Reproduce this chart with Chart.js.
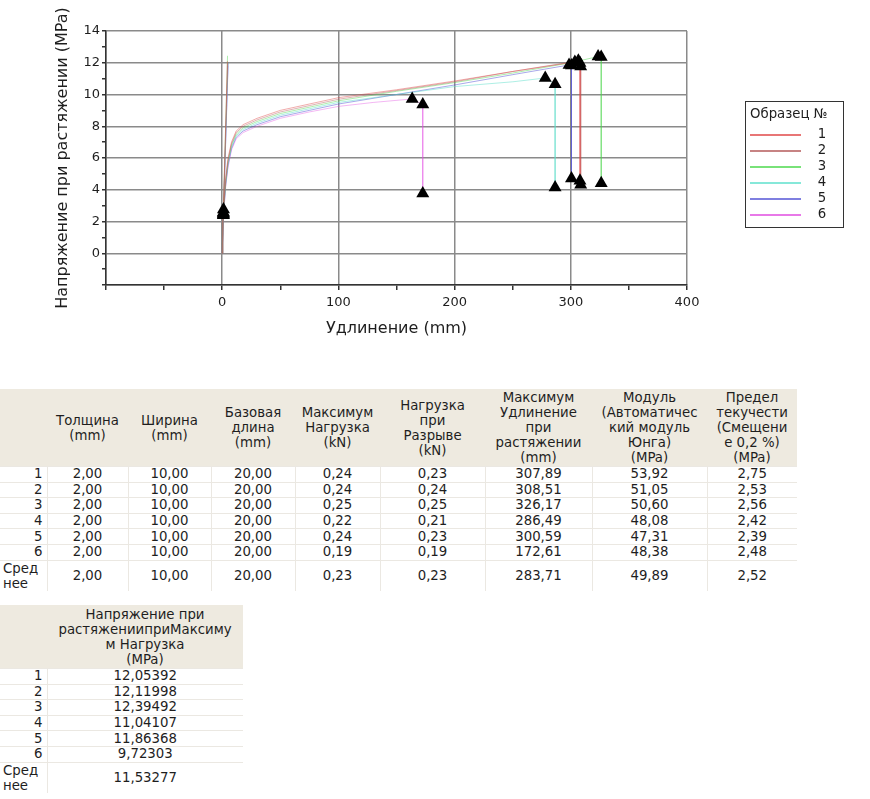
<!DOCTYPE html>
<html>
<head>
<meta charset="utf-8">
<title>Испытание на растяжение</title>
<script src="https://cdn.jsdelivr.net/npm/chart.js@4.4.1/dist/chart.umd.min.js"></script>
<style>
  body { margin: 0; background: #fff; font-family: "DejaVu Sans", Verdana, sans-serif; color: #1e1e1e; }
  #chartBox { position: absolute; left: 0; top: 0; width: 870px; height: 345px; }
  table { position: absolute; left: 0; border-collapse: collapse; table-layout: fixed; font-size: 13.3px; line-height: 14px; }
  #results { top: 389px; width: 797px; }
  #stressTable { top: 605px; width: 243px; }
  th { background: #eeeae0; font-weight: normal; text-align: center; vertical-align: middle; padding: 0 1px; line-height: 15px; }
  #results th { height: 77px; }
  #stressTable th { height: 63px; }
  td { padding: 0 2px; text-align: center; height: 14.6px; border-top: 1px solid #ebe8e2; border-left: 1px solid #ebe8e2; white-space: nowrap; }
  td.num { text-align: right; padding-right: 4px; border-left: none; }
  td.avgLabel { text-align: left; padding-left: 3px; line-height: 15px; height: 30px; }
</style>
</head>
<body>
<div id="chartBox"><canvas id="myChart"></canvas></div>
<table id="results"></table>
<table id="stressTable"></table>
<script>
// --- values ---
const specimens = ['1', '2', '3', '4', '5', '6'];

// stress-strain curves [elongation mm, stress MPa]
const curve1 = [[0,0],[0.5,2.0],[1.1,2.75],[2,3.8],[3,4.8],[5,6.0],[8,7.0],[12,7.7],[18,8.1],[30,8.5],[50,9.0],[75,9.4],[100,9.8],[150,10.3],[200,10.85],[250,11.45],[303.5,12.05],[307.89,11.98],[307.89,4.56]];
const curve2 = [[0,0],[0.5,1.9],[1.0,2.53],[2,3.6],[3,4.6],[5,5.85],[8,6.9],[12,7.6],[18,8.0],[30,8.4],[50,8.9],[75,9.3],[100,9.7],[150,10.25],[200,10.8],[250,11.45],[306.5,12.12],[308.51,11.77],[308.51,4.31]];
const curve3 = [[0,0],[0.5,1.95],[1.0,2.56],[2,3.5],[3,4.5],[5,5.75],[8,6.8],[12,7.5],[18,7.9],[30,8.3],[50,8.8],[75,9.2],[100,9.6],[150,10.2],[200,10.75],[250,11.35],[300,12.0],[323.5,12.39],[326.17,12.36],[326.17,4.41]];
const curve4 = [[0,0],[0.5,1.8],[1.0,2.42],[2,3.4],[3,4.4],[5,5.65],[8,6.7],[12,7.4],[18,7.8],[30,8.2],[50,8.7],[75,9.1],[100,9.5],[150,10.0],[200,10.5],[250,10.8],[278,11.04],[286.49,10.64],[286.49,4.14]];
const curve5 = [[0,0],[0.5,1.8],[1.0,2.39],[2,3.3],[3,4.3],[5,5.55],[8,6.6],[12,7.3],[18,7.7],[30,8.1],[50,8.6],[75,9.0],[100,9.4],[150,10.0],[200,10.6],[250,11.25],[298.5,11.86],[300.59,11.82],[300.59,4.71]];
const curve6 = [[0,0],[0.5,1.9],[1.0,2.48],[2,3.2],[3,4.2],[5,5.4],[8,6.5],[12,7.2],[18,7.6],[30,8.0],[50,8.5],[75,8.9],[100,9.25],[130,9.5],[163.5,9.72],[172.61,9.37],[172.61,3.76]];
const curves = [curve1, curve2, curve3, curve4, curve5, curve6];

// elastic (modulus) lines, from the origin to these ends
const modulusEndX = [4.5, 4.7, 4.6, 5.0, 5.1, 4.9];
const modulusEndY = [12.1, 12.0, 12.44, 12.0, 12.0, 11.8];

// marker triangles
const yieldX = [1.1, 1.0, 1.0, 1.0, 1.0, 1.0];
const yieldY = [2.75, 2.53, 2.56, 2.42, 2.39, 2.48];
const maxX = [303.5, 306.5, 323.5, 278, 298.5, 163.5];
const maxY = [12.05, 12.12, 12.39, 11.04, 11.86, 9.72];
const breakX = [307.89, 308.51, 326.17, 286.49, 300.59, 172.61];
const breakTopY = [11.98, 11.77, 12.36, 10.64, 11.82, 9.37];
const breakBottomY = [4.56, 4.31, 4.41, 4.14, 4.71, 3.76];

// tick labels
const xTickLabels = [0, 100, 200, 300, 400];
const yTickLabels = [0, 2, 4, 6, 8, 10, 12, 14];

// table values
const thickness = [2.00, 2.00, 2.00, 2.00, 2.00, 2.00];
const widthMm = [10.00, 10.00, 10.00, 10.00, 10.00, 10.00];
const gaugeLength = [20.00, 20.00, 20.00, 20.00, 20.00, 20.00];
const maxLoad = [0.24, 0.24, 0.25, 0.22, 0.24, 0.19];
const breakLoad = [0.23, 0.24, 0.25, 0.21, 0.23, 0.19];
const maxElongation = [307.89, 308.51, 326.17, 286.49, 300.59, 172.61];
const modulus = [53.92, 51.05, 50.60, 48.08, 47.31, 48.38];
const yieldStress = [2.75, 2.53, 2.56, 2.42, 2.39, 2.48];
const averages = [2.00, 10.00, 20.00, 0.23, 0.23, 283.71, 49.89, 2.52];
const stressAtMax = [12.05392, 12.11998, 12.39492, 11.04107, 11.86368, 9.72303];
const stressAtMaxAvg = 11.53277;

// legend colours and the paler plot colours
const colors = ['#e04848', '#b45a5a', '#4cd84c', '#5ee0cc', '#5454d6', '#e04ce0'];
const plotColors = ['rgba(224,72,72,0.45)', 'rgba(180,90,90,0.45)', 'rgba(76,216,76,0.45)',
                    'rgba(94,224,204,0.5)', 'rgba(84,84,214,0.5)', 'rgba(224,76,224,0.4)'];

// --- chart ---
const datasets = [];
const triangles = [];
specimens.forEach((s, i) => {
  triangles.push({x: yieldX[i], y: yieldY[i]}, {x: maxX[i], y: maxY[i]},
                 {x: breakX[i], y: breakTopY[i]}, {x: breakX[i], y: breakBottomY[i]});
});
datasets.push({
  label: 'markers', data: triangles, showLine: false, order: 0,
  pointStyle: 'triangle', pointRadius: 7.5, backgroundColor: '#000', borderColor: '#000', borderWidth: 0
});
curves.forEach((c, i) => {
  datasets.push({
    label: specimens[i], data: c.map(p => ({x: p[0], y: p[1]})),
    showLine: true, pointRadius: 0, borderWidth: 1, borderColor: plotColors[i], order: 1
  });
});
modulusEndX.forEach((x, i) => {
  datasets.push({
    label: 'mod' + specimens[i], data: [{x: 0, y: 0}, {x: x, y: modulusEndY[i]}],
    showLine: true, pointRadius: 0, borderWidth: 1, borderColor: plotColors[i], order: 2
  });
});

const legendBox = {
  id: 'legendBox',
  afterDraw(chart) {
    const ctx = chart.ctx;
    ctx.save();
    ctx.strokeStyle = '#333';
    ctx.lineWidth = 1;
    ctx.strokeRect(745.5, 101.5, 98, 126);
    ctx.fillStyle = '#1e1e1e';
    ctx.font = '13.3px "DejaVu Sans"';
    ctx.textBaseline = 'middle';
    ctx.textAlign = 'left';
    ctx.fillText('Образец №', 750, 115);
    specimens.forEach((s, i) => {
      const y = 135 + i * 16;
      ctx.strokeStyle = colors[i];
      ctx.lineWidth = 1.5;
      ctx.beginPath();
      ctx.moveTo(750, y);
      ctx.lineTo(801, y);
      ctx.stroke();
      ctx.textAlign = 'center';
      ctx.fillText(s, 822, y);
    });
    ctx.restore();
  }
};

const ctx = document.getElementById('myChart').getContext('2d');
const myChart = new Chart(ctx, {
  type: 'scatter',
  data: { datasets: datasets },
  options: {
    responsive: true,
    maintainAspectRatio: false,
    animation: false,
    events: [],
    layout: { padding: { top: 31, right: 183, bottom: 0, left: 0 } },
    plugins: { legend: { display: false }, tooltip: { enabled: false } },
    scales: {
      x: {
        type: 'linear', min: -100, max: 400,
        afterFit(scale) { scale.height = 60; },
        ticks: {
          stepSize: 50, autoSkip: false, maxRotation: 0, padding: 5,
          color: '#1e1e1e', font: { family: 'DejaVu Sans', size: 13 },
          callback: v => xTickLabels.includes(v) ? v : ''
        },
        grid: {
          color: c => (c.tick && c.tick.value % 100 === 0) ? '#8a8a8a' : 'rgba(0,0,0,0)',
          lineWidth: 1.5, tickColor: '#333', tickLength: 5
        },
        border: { color: '#333', width: 1.5 },
        title: {
          display: true, text: 'Удлинение (mm)', color: '#1e1e1e',
          font: { family: 'DejaVu Sans', size: 16 }, padding: { top: 0, bottom: 7 }
        }
      },
      y: {
        type: 'linear', min: -2, max: 14,
        afterFit(scale) { scale.width = 106; },
        ticks: {
          stepSize: 1, autoSkip: false, padding: 2,
          color: '#1e1e1e', font: { family: 'DejaVu Sans', size: 13 },
          callback: v => yTickLabels.includes(v) ? v : ''
        },
        grid: {
          color: c => (c.tick && c.tick.value % 2 === 0) ? '#8a8a8a' : 'rgba(0,0,0,0)',
          lineWidth: 1.5, tickColor: '#333', tickLength: 4
        },
        border: { color: '#333', width: 1.5 },
        title: {
          display: true, text: 'Напряжение при растяжении (MPa)', color: '#1e1e1e',
          font: { family: 'DejaVu Sans', size: 16 }, padding: { top: 53, bottom: 0 }
        }
      }
    }
  },
  plugins: [legendBox]
});

// --- tables ---
const fmt = (v, d) => v.toFixed(d).replace('.', ',');

const resultHeaders = ['Толщина<br>(mm)', 'Ширина<br>(mm)', 'Базовая<br>длина<br>(mm)', 'Максимум<br>Нагрузка<br>(kN)',
  'Нагрузка<br>при<br>Разрыве<br>(kN)', 'Максимум<br>Удлинение<br>при<br>растяжении<br>(mm)',
  'Модуль<br>(Автоматичес<br>кий модуль<br>Юнга)<br>(MPa)', 'Предел<br>текучести<br>(Смещени<br>е 0,2 %)<br>(MPa)'];
const resultCols = [thickness, widthMm, gaugeLength, maxLoad, breakLoad, maxElongation, modulus, yieldStress];
const colWidths = [47, 81, 83, 84, 85, 105, 107, 115, 90];

let html = '<colgroup>' + colWidths.map(w => `<col style="width:${w}px">`).join('') + '</colgroup>';
html += '<tr><th></th>' + resultHeaders.map(h => `<th>${h}</th>`).join('') + '</tr>';
specimens.forEach((s, i) => {
  html += `<tr><td class="num">${s}</td>` + resultCols.map(col => `<td>${fmt(col[i], 2)}</td>`).join('') + '</tr>';
});
html += '<tr><td class="num avgLabel">Сред<br>нее</td>' + averages.map(v => `<td>${fmt(v, 2)}</td>`).join('') + '</tr>';
document.getElementById('results').innerHTML = html;

let html2 = '<colgroup><col style="width:47px"><col style="width:196px"></colgroup>';
html2 += '<tr><th></th><th>Напряжение при<br>растяжениипри' + 'Максиму<br>м Нагрузка<br>(MPa)</th></tr>';
specimens.forEach((s, i) => {
  html2 += `<tr><td class="num">${s}</td><td>${fmt(stressAtMax[i], 5)}</td></tr>`;
});
html2 += `<tr><td class="num avgLabel">Сред<br>нее</td><td>${fmt(stressAtMaxAvg, 5)}</td></tr>`;
document.getElementById('stressTable').innerHTML = html2;
</script>
</body>
</html>
